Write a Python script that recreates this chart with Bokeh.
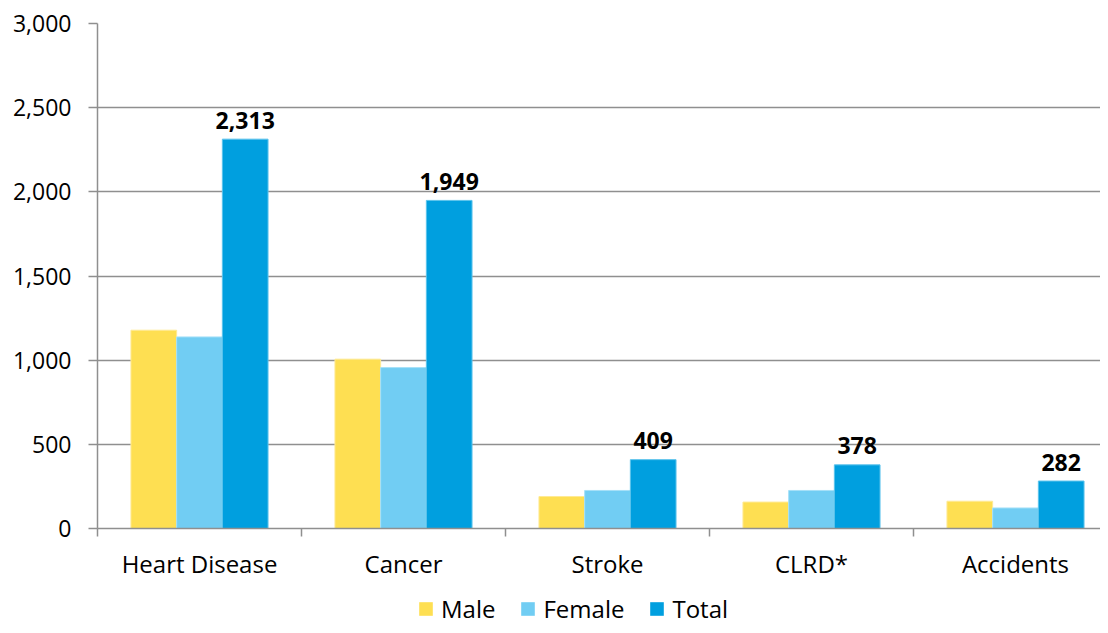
from bokeh.plotting import figure
from bokeh.layouts import column
from bokeh.models import (Range1d, FixedTicker, NumeralTickFormatter, Legend, LegendItem,
                          ColumnDataSource)
from bokeh.core.properties import value
from bokeh.embed import file_html
from bokeh.resources import INLINE

categories = ["Heart Disease", "Cancer", "Stroke", "CLRD*", "Accidents"]
male = [1178, 1006, 190, 157, 162]
female = [1138, 956, 226, 226, 122]
total = [2313, 1949, 409, 378, 282]
total_labels = ["2,313", "1,949", "409", "378", "282"]
series = ["Male", "Female", "Total"]
y_ticks = [0, 500, 1000, 1500, 2000, 2500, 3000]

C_MALE = "#FEDF52"
C_FEMALE = "#71CDF3"
C_TOTAL = "#009FDF"
E_MALE = "#FFEA94"
E_FEMALE = "#A6E0F8"
E_TOTAL = "#5CC3EC"
GRID = "#8f8f8f"
FONT = "Open Sans"

n = len(categories)
cat_px = 204.0
frame_w = 1003.0
centers = [i + 0.5 for i in range(n)]
bw = 0.224

W = 1100
H_MAIN = 582
H_LEG = 43

p = figure(width=W, height=H_MAIN, output_backend="svg", toolbar_location=None,
           x_range=Range1d(0, frame_w / cat_px), y_range=Range1d(0, 3000),
           min_border_left=97, min_border_right=0, min_border_top=23, min_border_bottom=52)
p.outline_line_color = None
p.background_fill_color = "white"
p.border_fill_color = "white"

src = ColumnDataSource(dict(
    xm=[c - bw for c in centers], xf=centers, xt=[c + bw for c in centers],
    male=male, female=female, total=total, lab=total_labels))

p.vbar(x="xm", top="male", width=bw, source=src, fill_color=C_MALE,
       line_color=E_MALE, line_width=1)
p.vbar(x="xf", top="female", width=bw, source=src, fill_color=C_FEMALE,
       line_color=E_FEMALE, line_width=1)
p.vbar(x="xt", top="total", width=bw, source=src, fill_color=C_TOTAL,
       line_color=E_TOTAL, line_width=1)

p.text(x="xt", y="total", text="lab", source=src, text_align="center",
       text_baseline="alphabetic", y_offset=-19, text_font=value(FONT),
       text_font_size="23px", text_font_style="bold", text_color="black")

# Y axis
p.yaxis.ticker = FixedTicker(ticks=y_ticks)
p.yaxis.formatter = NumeralTickFormatter(format="0,0")
p.yaxis.axis_line_color = GRID
p.yaxis.axis_line_width = 1.5
p.yaxis.major_tick_line_color = GRID
p.yaxis.major_tick_line_width = 1.5
p.yaxis.major_tick_out = 9
p.yaxis.major_tick_in = 0
p.yaxis.minor_tick_line_color = None
p.yaxis.major_label_standoff = 17
p.yaxis.major_label_text_font = FONT
p.yaxis.major_label_text_font_size = "23px"
p.yaxis.major_label_text_color = "black"

# X axis: labels at category centres, ticks at boundaries
p.xaxis.ticker = FixedTicker(ticks=centers, minor_ticks=list(range(n + 1)))
p.xaxis.major_label_overrides = {c: cat for c, cat in zip(centers, categories)}
p.xaxis.axis_line_color = GRID
p.xaxis.axis_line_width = 1.5
p.xaxis.major_tick_line_color = None
p.xaxis.major_tick_out = 0
p.xaxis.major_tick_in = 0
p.xaxis.minor_tick_line_color = GRID
p.xaxis.minor_tick_line_width = 1.5
p.xaxis.minor_tick_out = 8
p.xaxis.minor_tick_in = 0
p.xaxis.major_label_standoff = 10
p.xaxis.major_label_text_font = FONT
p.xaxis.major_label_text_font_size = "24px"
p.xaxis.major_label_text_color = "black"

p.xgrid.grid_line_color = None
p.ygrid.ticker = FixedTicker(ticks=y_ticks)
p.ygrid.grid_line_color = GRID
p.ygrid.grid_line_width = 1.5

# Legend strip below the chart
pl = figure(width=W, height=H_LEG, output_backend="svg", toolbar_location=None,
            x_range=Range1d(0, W), y_range=Range1d(0, H_LEG),
            x_axis_type=None, y_axis_type=None,
            min_border_left=0, min_border_right=0, min_border_top=0, min_border_bottom=0)
pl.outline_line_color = None
pl.grid.grid_line_color = None
pl.background_fill_color = "white"
pl.border_fill_color = "white"

dummy = ColumnDataSource(dict(x=[-1000], top=[0]))
lr = [pl.vbar(x="x", top="top", width=1, source=dummy, fill_color=c, line_color=None)
      for c in (C_MALE, C_FEMALE, C_TOTAL)]

legend = Legend(items=[LegendItem(label=s, renderers=[r]) for s, r in zip(series, lr)],
                orientation="horizontal", location=(320, 0),
                glyph_width=17, glyph_height=17, label_standoff=7, spacing=24,
                padding=0, margin=0, border_line_color=None, background_fill_alpha=0,
                label_text_font=FONT, label_text_font_size="24px", label_text_color="black")
pl.add_layout(legend, "center")

layout = column(p, pl, spacing=0)
open("out.html", "w").write(file_html(layout, INLINE))
